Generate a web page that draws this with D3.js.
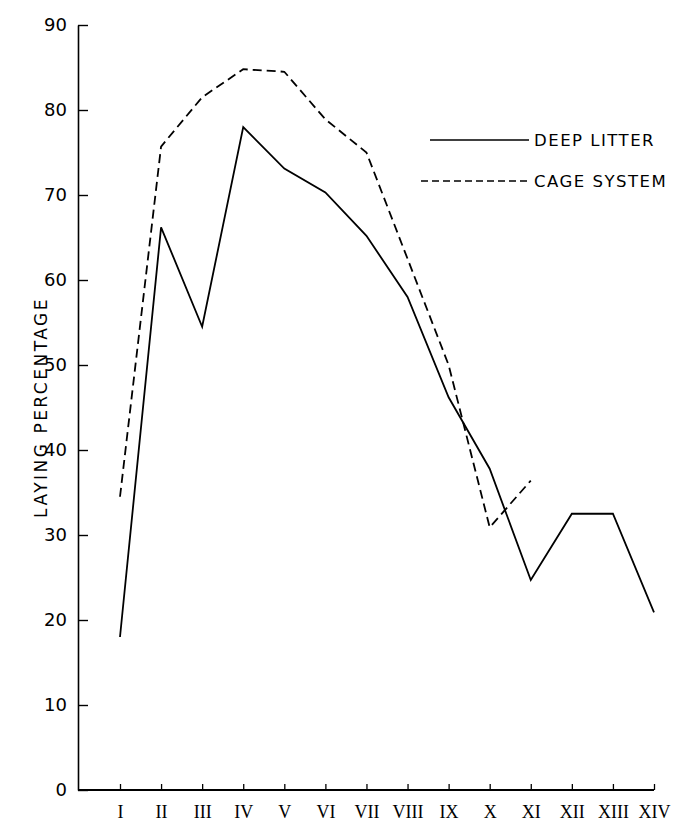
<!DOCTYPE html>
<html>
<head>
<meta charset="utf-8">
<script src="https://cdn.jsdelivr.net/npm/d3@7"></script>
<style>
  body { margin: 0; background: #fff; }
  .ylab text { font-family: "DejaVu Sans", sans-serif; font-size: 18px; }
  .xlab text { font-family: "Liberation Serif", serif; font-size: 18px; }
</style>
</head>
<body>
<div id="chart"></div>
<script>
var months = ["I", "II", "III", "IV", "V", "VI", "VII", "VIII", "IX", "X", "XI", "XII", "XIII", "XIV"];
var deepLitter = [18, 66.2, 54.5, 78, 73.1, 70.3, 65.2, 58, 46.2, 37.8, 24.7, 32.5, 32.5, 20.9];
var cageSystem = [34.5, 75.7, 81.5, 84.8, 84.5, 78.9, 75, 62.5, 50, 30.9, 36.4];
var yTicks = [0, 10, 20, 30, 40, 50, 60, 70, 80, 90];

var svgWidth = 683;
var svgHeight = 830;
var axisX = 78;
var axisY = 790;

var svg = d3.select("#chart")
  .append("svg")
  .attr("width", svgWidth)
  .attr("height", svgHeight);

var xScale = d3.scalePoint()
  .domain(months)
  .range([120, 654]);

var yScale = d3.scaleLinear()
  .domain([0, 90])
  .range([axisY, 25]);

// y axis, ticks pointing into the plot
var yAxis = svg.append("g")
  .attr("class", "ylab")
  .attr("transform", `translate(${axisX}, 0)`)
  .call(d3.axisLeft(yScale).tickValues(yTicks).tickSizeInner(-10).tickSizeOuter(0).tickPadding(11));
yAxis.select(".domain").attr("stroke-width", 1.6);
yAxis.selectAll(".tick line").attr("stroke-width", 1.4);

// x axis
var xAxis = svg.append("g")
  .attr("class", "xlab")
  .attr("transform", `translate(0, ${axisY})`)
  .call(d3.axisBottom(xScale).tickSizeInner(-6).tickSizeOuter(0).tickPadding(15));
xAxis.select(".domain").remove();
xAxis.selectAll(".tick line").attr("stroke-width", 1.3);
svg.append("line")
  .attr("x1", axisX).attr("x2", xScale("XIV"))
  .attr("y1", axisY).attr("y2", axisY)
  .attr("stroke", "#000").attr("stroke-width", 1.8);

// axis title
svg.append("text")
  .attr("transform", `translate(47, ${yScale(45)}) rotate(-90)`)
  .attr("text-anchor", "middle")
  .style("font-family", "DejaVu Sans, sans-serif")
  .style("font-size", "17px")
  .style("letter-spacing", "2.5px")
  .text("LAYING PERCENTAGE");

var line = d3.line()
  .x((d, i) => xScale(months[i]))
  .y(d => yScale(d));

svg.append("path")
  .datum(deepLitter)
  .attr("d", line)
  .attr("fill", "none")
  .attr("stroke", "#000")
  .attr("stroke-width", 1.8);

svg.append("path")
  .datum(cageSystem)
  .attr("d", line)
  .attr("fill", "none")
  .attr("stroke", "#000")
  .attr("stroke-width", 1.8)
  .attr("stroke-dasharray", "9,5");

// legend
var legend = [
  { name: "DEEP LITTER", dash: null, y: 140, x0: 430 },
  { name: "CAGE SYSTEM", dash: "7,4", y: 181, x0: 421 }
];
legend.forEach(function(l) {
  svg.append("line")
    .attr("x1", l.x0).attr("x2", 529)
    .attr("y1", l.y).attr("y2", l.y)
    .attr("stroke", "#000")
    .attr("stroke-width", 1.6)
    .attr("stroke-dasharray", l.dash);
  svg.append("text")
    .attr("x", 534).attr("y", l.y + 6)
    .style("font-family", "DejaVu Sans, sans-serif")
    .style("font-size", "16.5px")
    .style("letter-spacing", "1.5px")
    .text(l.name);
});
</script>
</body>
</html>
